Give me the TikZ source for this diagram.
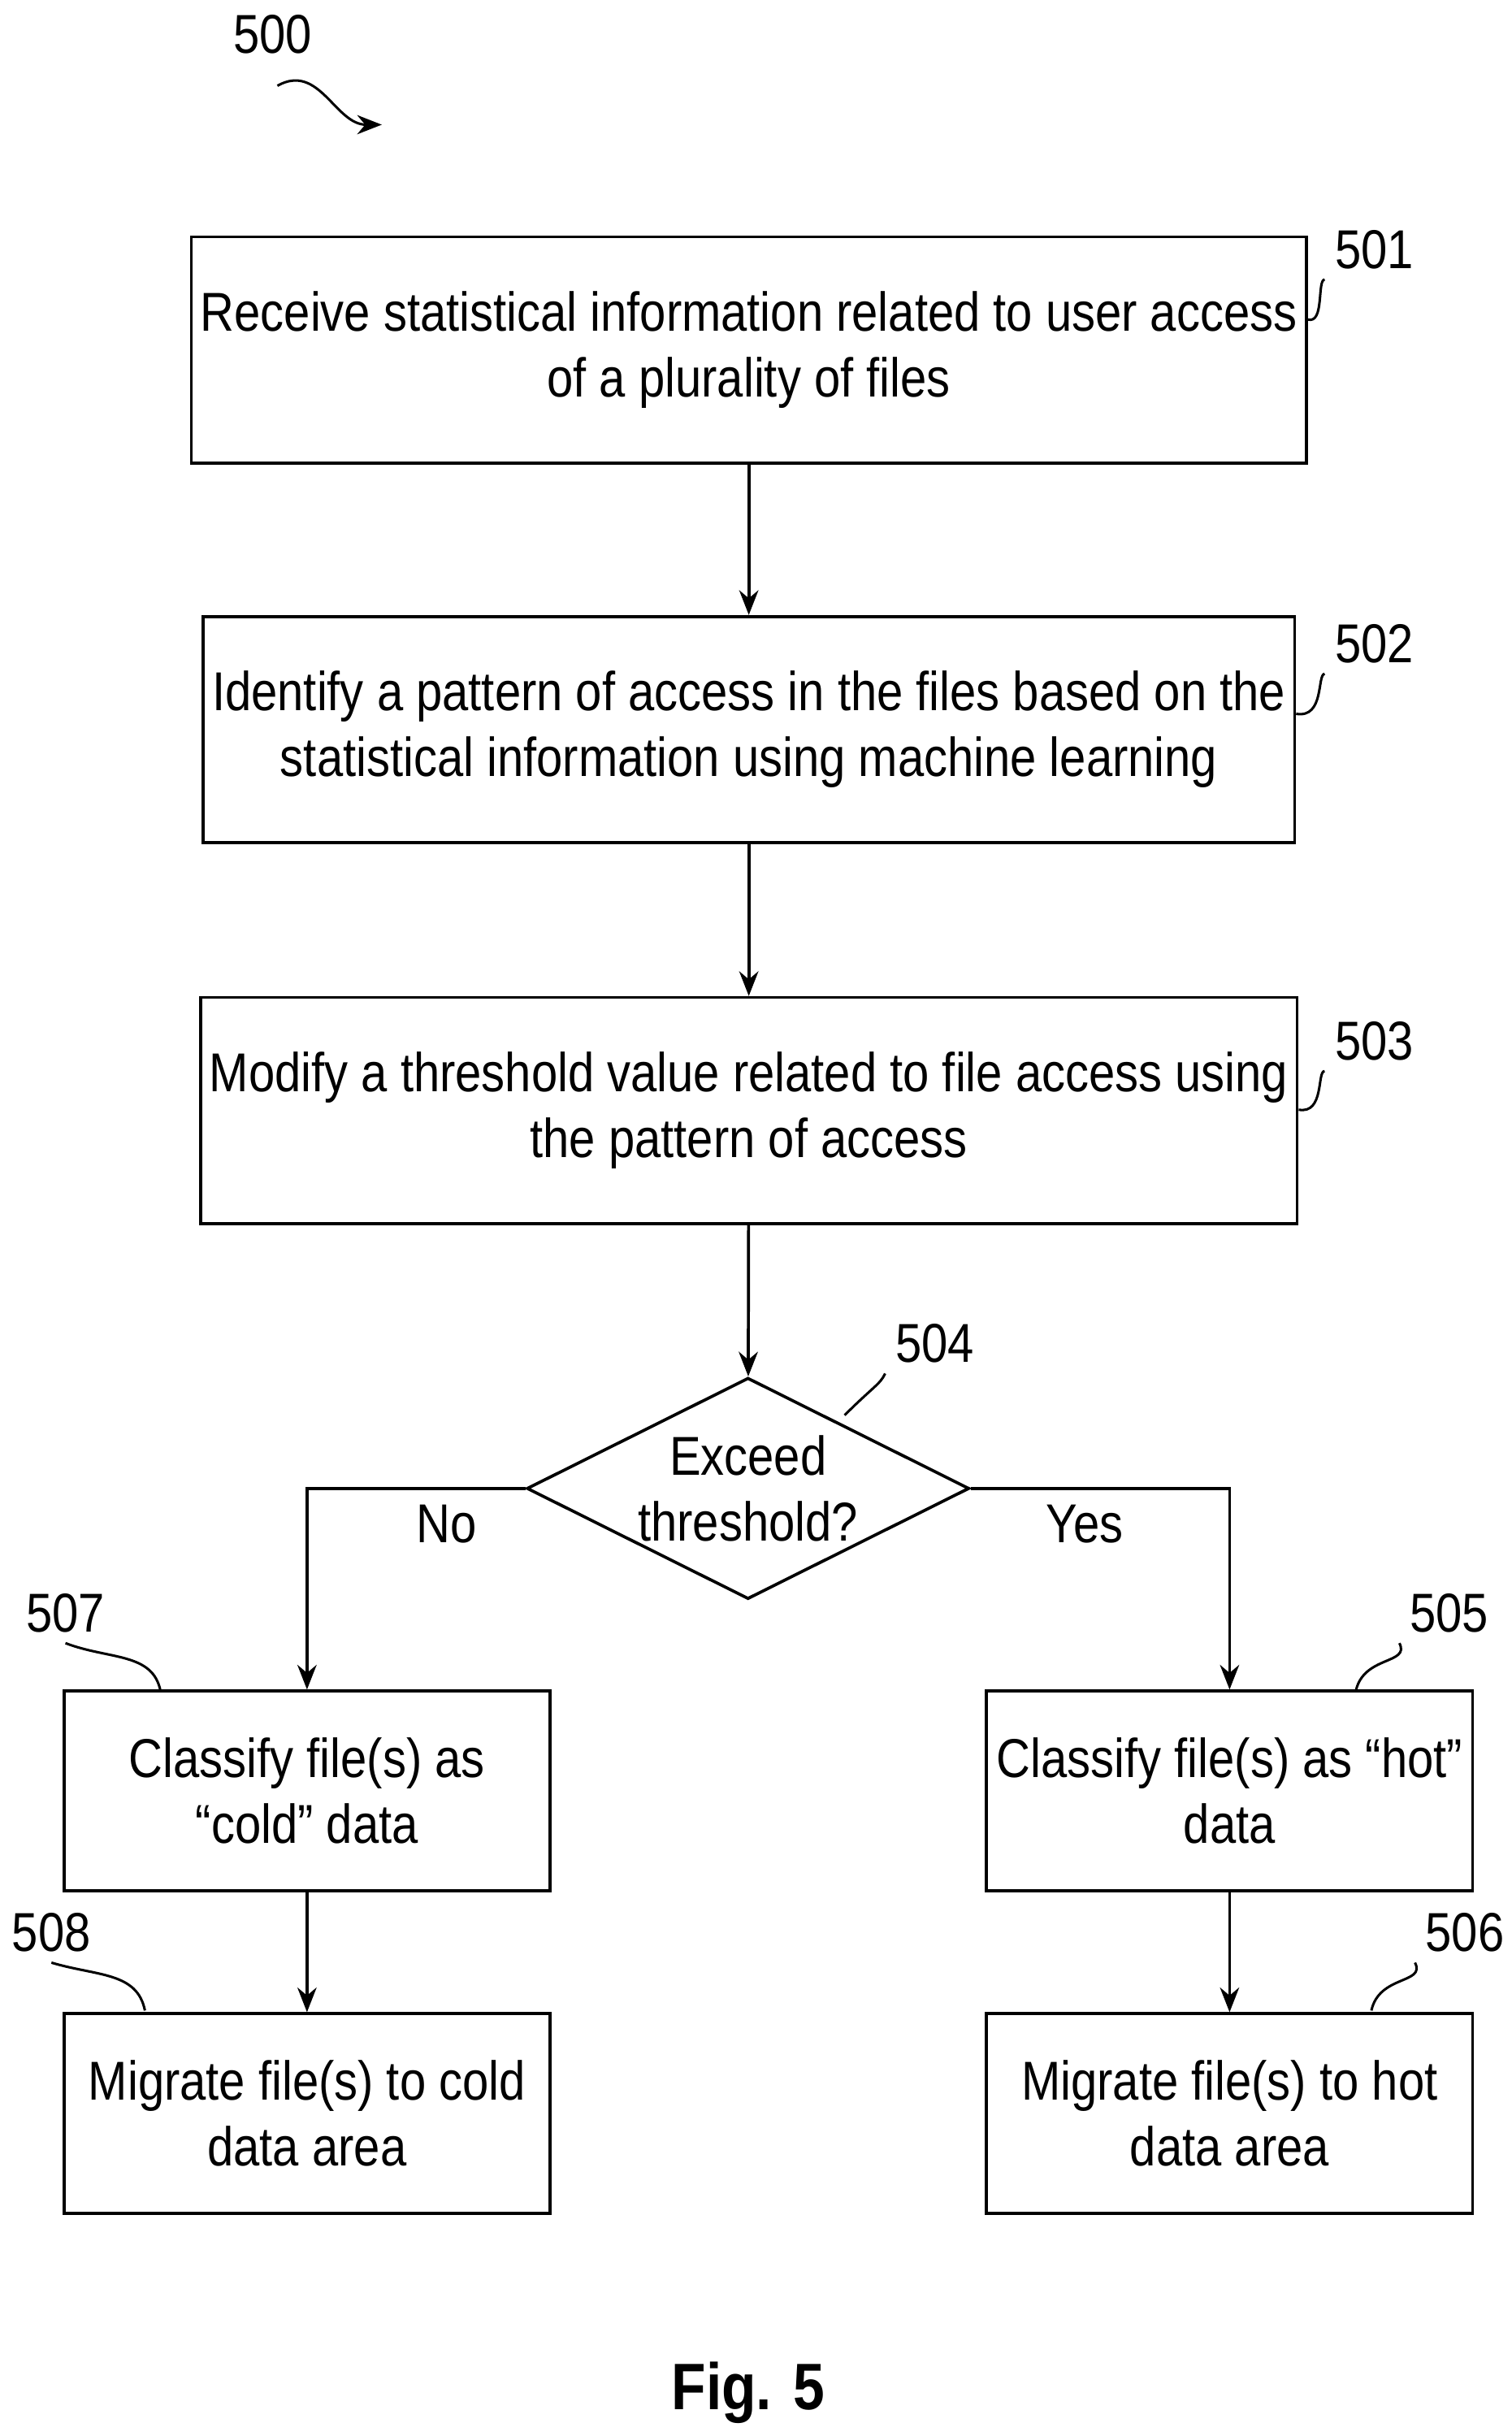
\documentclass[tikz,border=0pt]{standalone}
\usepackage{fontspec}
\setmainfont[FakeStretch=0.86]{Liberation Sans}
\usetikzlibrary{shapes.geometric,arrows.meta}

\begin{document}
\begin{tikzpicture}[x=0.02cm,y=-0.02cm,line width=1.1pt,>={Stealth[length=9pt,width=7pt]}]
  \tikzstyle{txt}=[font=\fontsize{20}{24}\selectfont,align=center]
  \tikzstyle{wide step}=[txt,draw,minimum width=13.74cm,minimum height=2.9cm]
  \tikzstyle{side step}=[txt,draw,minimum width=6.24cm,minimum height=2.56cm]
  \tikzstyle{decision}=[draw,diamond,minimum width=5.68cm,minimum height=2.84cm,inner sep=0pt]
  \tikzstyle{ref}=[font=\fontsize{20}{24}\selectfont]
  \tikzstyle{squig}=[line width=0.9pt]

  \useasboundingbox (0,0) rectangle (970,1563);

  % Draw the process steps
  \node[wide step] (S-501) at (480.5,224.5) {Receive statistical information related to user access\\of a plurality of files};
  \node[wide step] (S-502) at (480.5,468) {Identify a pattern of access in the files based on the\\statistical information using machine learning};
  \node[wide step] (S-503) at (480.5,712.5) {Modify a threshold value related to file access using\\the pattern of access};

  % Draw the decision
  \node[decision] (D-504) at (480,955) {};
  \node[txt] (Q-504) at (480,955) {Exceed\\threshold?};

  % Draw the two branches
  \node[side step] (S-507) at (197,1149) {Classify file(s) as\\``cold'' data};
  \node[side step] (S-508) at (197,1356) {Migrate file(s) to cold\\data area};
  \node[side step] (S-505) at (789,1149) {Classify file(s) as ``hot''\\data};
  \node[side step] (S-506) at (789,1356) {Migrate file(s) to hot\\data area};

  % Connect the steps
  \draw[->] (S-501) -- (S-502);
  \draw[->] (S-502) -- (S-503);
  \draw[->] (S-503) -- (D-504);
  \draw[->] (D-504.west) -| node[ref,pos=0.18,below=2pt] (No) {No} (S-507.north);
  \draw[->] (D-504.east) -| node[ref,pos=0.22,below=2pt] (Yes) {Yes} (S-505.north);
  \draw[->] (S-507) -- (S-508);
  \draw[->] (S-505) -- (S-506);

  % Reference numerals
  \node[ref] (R-500) at (175,22) {500};
  \node[ref] (R-501) at (882,160) {501};
  \node[ref] (R-502) at (882,413) {502};
  \node[ref] (R-503) at (882,668) {503};
  \node[ref] (R-504) at (600,862) {504};
  \node[ref] (R-505) at (930,1035) {505};
  \node[ref] (R-506) at (940,1240) {506};
  \node[ref] (R-507) at (42,1035) {507};
  \node[ref] (R-508) at (33,1240) {508};

  \coordinate (T-500) at (245,80);
  \draw[squig,->] (178,55) .. controls (205,40) and (215,80) .. (T-500);
  \draw[squig] (S-501.east |- 0,205) .. controls (850,208) and (845,180) .. (R-501.south west);
  \draw[squig] (S-502.east |- 0,458) .. controls (850,461) and (845,433) .. (R-502.south west);
  \draw[squig] (S-503.east |- 0,712) .. controls (850,715) and (845,687) .. (R-503.south west);
  \draw[squig] (542,908) .. controls (560,890) and (565,888) .. (R-504.south west);
  \draw[squig] (R-507.south) .. controls (70,1065) and (98,1060) .. (103,1085);
  \draw[squig] (R-508.south) .. controls (62,1268) and (88,1265) .. (93,1290);
  \draw[squig] (870,1085) .. controls (875,1062) and (905,1068) .. (R-505.south west);
  \draw[squig] (880,1290) .. controls (885,1267) and (915,1273) .. (R-506.south west);

  % Figure caption
  \node[font=\fontsize{24}{28}\selectfont\bfseries] (fig) at (480,1535) {Fig. 5};
\end{tikzpicture}
\end{document}
